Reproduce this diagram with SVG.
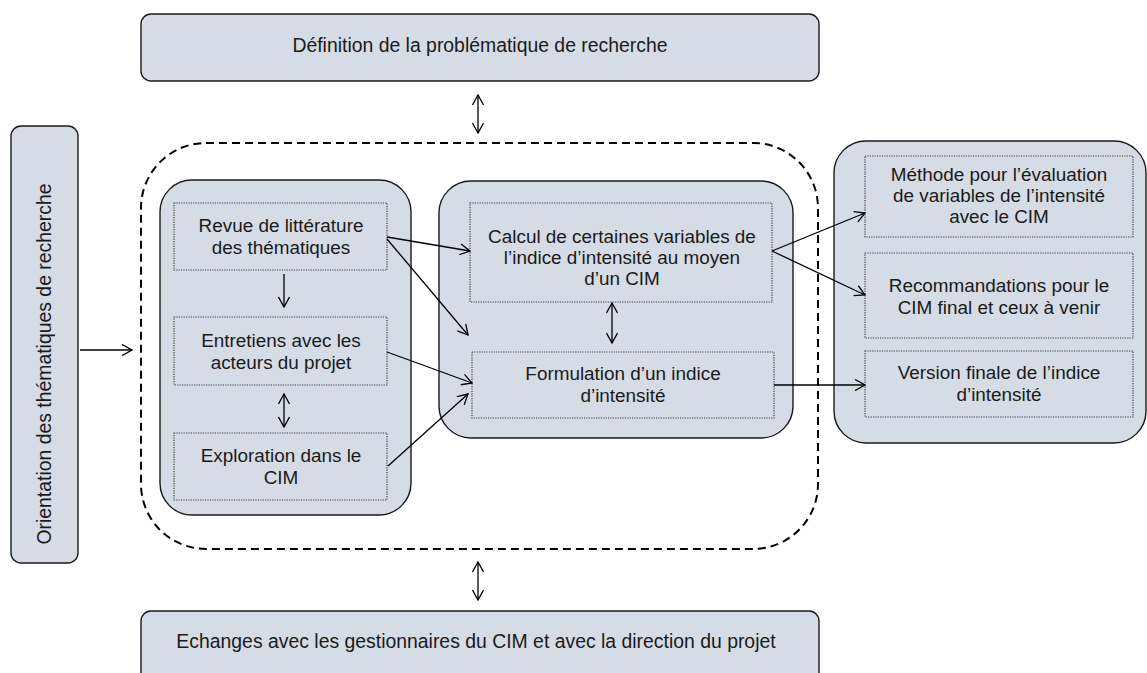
<svg xmlns="http://www.w3.org/2000/svg" width="1147" height="673" viewBox="0 0 1147 673">
<defs>
<style>
.box{fill:#D6DCE5;stroke:#1a1a1a;stroke-width:1.4}
.dot{fill:none;stroke:#404040;stroke-width:1.2;stroke-dasharray:1.2 1.2}
.dash{fill:none;stroke:#000;stroke-width:2;stroke-dasharray:8 5}
.t{font-family:"Liberation Sans",Arial,sans-serif;font-size:18.9px;fill:#1a1a1a;text-anchor:middle}
.big{font-size:19.4px}
.c{fill:none;stroke:#000;stroke-width:1.3}
</style>
<marker id="ah" viewBox="0 0 12 12" refX="11" refY="6" markerWidth="12" markerHeight="12" markerUnits="userSpaceOnUse" orient="auto-start-reverse">
<path d="M1,0.5 L11,6 L1,11.5" fill="none" stroke="#000" stroke-width="1.3"/>
</marker>
</defs>
<rect width="1147" height="673" fill="#fff"/>

<g id="dashed-group">
<rect class="dash" x="141" y="143" width="677" height="406" rx="65"/>
</g>

<g id="top">
<rect class="box" x="141" y="14" width="678" height="67" rx="10"/>
<text class="t big" x="480" y="52">Définition de la problématique de recherche</text>
</g>

<g id="left">
<rect class="box" x="11" y="126" width="67" height="437" rx="10"/>
<text class="t big" transform="translate(51,364) rotate(-90)">Orientation des thématiques de recherche</text>
</g>

<g id="col1">
<rect class="box" x="160" y="180" width="251" height="335" rx="32"/>
</g>
<g id="revue">
<rect class="dot" x="174" y="203" width="213" height="67"/>
<text class="t" x="281" y="232">Revue de littérature</text>
<text class="t" x="281" y="254">des thématiques</text>
</g>
<g id="entretiens">
<rect class="dot" x="174" y="317" width="213" height="68"/>
<text class="t" x="281" y="347">Entretiens avec les</text>
<text class="t" x="281" y="369">acteurs du projet</text>
</g>
<g id="exploration">
<rect class="dot" x="174" y="433" width="213" height="67"/>
<text class="t" x="281" y="462">Exploration dans le</text>
<text class="t" x="281" y="484">CIM</text>
</g>

<g id="col2">
<rect class="box" x="439" y="181" width="354" height="257" rx="32"/>
</g>
<g id="calcul">
<rect class="dot" x="470" y="203" width="302" height="99"/>
<text class="t" x="622" y="243">Calcul de certaines variables de</text>
<text class="t" x="622" y="264">l’indice d’intensité au moyen</text>
<text class="t" x="622" y="285">d’un CIM</text>
</g>
<g id="formulation">
<rect class="dot" x="472" y="352" width="302" height="66"/>
<text class="t" x="623" y="380">Formulation d’un indice</text>
<text class="t" x="623" y="402">d’intensité</text>
</g>

<g id="col3">
<rect class="box" x="834" y="141" width="312" height="302" rx="32"/>
</g>
<g id="methode">
<rect class="dot" x="865" y="156" width="268" height="81"/>
<text class="t" x="999" y="181">Méthode pour l’évaluation</text>
<text class="t" x="999" y="202">de variables de l’intensité</text>
<text class="t" x="999" y="223">avec le CIM</text>
</g>
<g id="recommandations">
<rect class="dot" x="865" y="253" width="268" height="85"/>
<text class="t" x="999" y="292">Recommandations pour le</text>
<text class="t" x="999" y="314">CIM final et ceux à venir</text>
</g>
<g id="version">
<rect class="dot" x="865" y="351" width="268" height="66"/>
<text class="t" x="999" y="379">Version finale de l’indice</text>
<text class="t" x="999" y="401">d’intensité</text>
</g>

<g id="bottom">
<rect class="box" x="141" y="611" width="678" height="75" rx="10"/>
<text class="t big" x="476" y="648">Echanges avec les gestionnaires du CIM et avec la direction du projet</text>
</g>

<g id="connectors">
<line class="c" x1="80" y1="350" x2="132" y2="350" marker-end="url(#ah)"/>
<line class="c" x1="478" y1="95" x2="478" y2="133" marker-start="url(#ah)" marker-end="url(#ah)"/>
<line class="c" x1="478" y1="562" x2="478" y2="600" marker-start="url(#ah)" marker-end="url(#ah)"/>
<line class="c" x1="284" y1="274" x2="284" y2="307" marker-end="url(#ah)"/>
<line class="c" x1="284" y1="394" x2="284" y2="427" marker-start="url(#ah)" marker-end="url(#ah)"/>
<line class="c" x1="387" y1="237" x2="470" y2="251" marker-end="url(#ah)"/>
<line class="c" x1="387" y1="239" x2="468" y2="335" marker-end="url(#ah)"/>
<line class="c" x1="387" y1="352" x2="472" y2="383" marker-end="url(#ah)"/>
<line class="c" x1="388" y1="466" x2="468" y2="394" marker-end="url(#ah)"/>
<line class="c" x1="612" y1="303" x2="612" y2="343" marker-start="url(#ah)" marker-end="url(#ah)"/>
<line class="c" x1="772" y1="251" x2="865" y2="213" marker-end="url(#ah)"/>
<line class="c" x1="772" y1="251" x2="865" y2="295" marker-end="url(#ah)"/>
<line class="c" x1="774" y1="385" x2="865" y2="385" marker-end="url(#ah)"/>
</g>
</svg>
